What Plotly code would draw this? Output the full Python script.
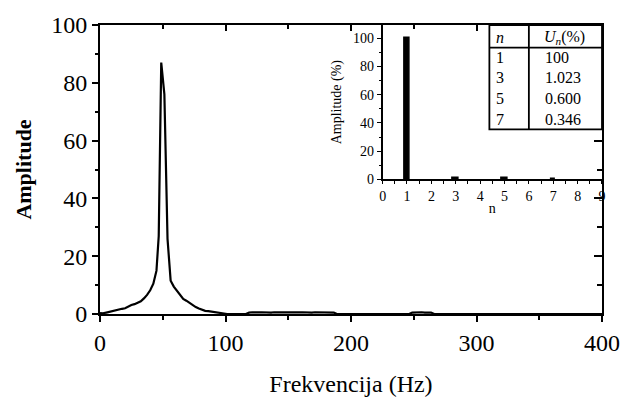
import plotly.graph_objects as go

# ---- main spectrum ----
freq_hz = [0, 2.5, 5, 7.5, 10, 12.5, 15, 17.5, 20, 22.5, 25, 27.5, 30, 32.5, 35, 37.5,
           40, 42.5, 45, 46.8, 48.8, 51.3, 53.8, 56.3, 58.8, 61.3, 63.8, 66.3, 68.8,
           71.3, 73.8, 76.3, 78.8, 81.3, 83.8, 86.3, 88.8, 91.3, 93.8, 96.3, 98.8,
           101.3, 116.3,
           118.8, 121.3, 123.8, 126.3, 128.8, 131.3, 133.8, 136.3, 138.8, 141.3, 143.8,
           146.3, 148.8, 151.3, 153.8, 156.3, 158.8, 161.3, 163.8, 166.3, 168.8, 171.3,
           173.8, 176.3, 178.8, 181.3, 183.8, 186.3,
           188.8, 246.3,
           248.8, 251.3, 253.8, 256.3, 258.8, 261.3, 263.8,
           266.3, 400]
amplitude = [0.3, 0.2, 0.5, 0.8, 0.9, 1.3, 1.5, 1.8, 2.0, 2.6, 3.1, 3.4, 3.9, 4.4, 5.4, 6.6,
             8.2, 10.5, 15.0, 27.0, 87.0, 76.0, 26.0, 11.5, 9.5, 8.0, 6.5, 5.2, 4.6,
             3.8, 3.0, 2.4, 1.9, 1.4, 1.1, 1.0, 0.8, 0.6, 0.5, 0.3, 0.1,
             0.0, 0.0,
             0.5, 0.6, 0.5, 0.55, 0.6, 0.5, 0.55, 0.5, 0.6, 0.55, 0.5,
             0.6, 0.5, 0.55, 0.6, 0.5, 0.55, 0.6, 0.5, 0.55, 0.5, 0.6,
             0.55, 0.5, 0.6, 0.5, 0.55, 0.5,
             0.0, 0.0,
             0.5, 0.6, 0.55, 0.6, 0.5, 0.6, 0.5,
             0.0, 0.0]

# ---- harmonic inset ----
harmonic_n = [1, 3, 5, 7]
harmonic_pct = [100, 1.023, 0.600, 0.346]
harmonic_txt = ["100", "1.023", "0.600", "0.346"]

FONT = "Times New Roman, Liberation Serif, serif"
fig = go.Figure()

fig.add_trace(go.Scatter(x=freq_hz, y=amplitude, mode="lines",
                         line=dict(color="black", width=2.2), xaxis="x", yaxis="y",
                         showlegend=False, hoverinfo="skip"))
# dummy trace for mirrored (inward-tick) top/right axes
fig.add_trace(go.Scatter(x=[0], y=[0], mode="markers", marker=dict(opacity=0),
                         xaxis="x3", yaxis="y3", showlegend=False, hoverinfo="skip"))

fig.add_trace(go.Bar(x=harmonic_n, y=harmonic_pct, width=0.22,
                     marker=dict(color="black", line=dict(color="black", width=1.5)),
                     xaxis="x2", yaxis="y2", showlegend=False))

main_tick = dict(family=FONT, size=24, color="black")
small = dict(family=FONT, size=14, color="black")

fig.update_layout(
    width=632, height=405,
    margin=dict(l=100, r=24, t=16, b=83),
    paper_bgcolor="white", plot_bgcolor="rgba(0,0,0,0)",
    xaxis=dict(domain=[0, 1], range=[0, 400], dtick=100, tick0=0,
               ticks="outside", ticklen=6, tickwidth=1.5, tickcolor="black",
               minor=dict(dtick=50, ticks="outside", ticklen=4, tickwidth=1.5, tickcolor="black"),
               showline=True, linewidth=2, linecolor="black", showgrid=False, zeroline=False,
               tickfont=main_tick,
               title=dict(text="Frekvencija (Hz)", font=main_tick, standoff=20)),
    yaxis=dict(domain=[0, 1], range=[0, 100], dtick=20, tick0=0,
               ticks="outside", ticklen=6, tickwidth=1.5, tickcolor="black",
               minor=dict(dtick=10, ticks="outside", ticklen=3, tickwidth=1.5, tickcolor="black"),
               showline=True, linewidth=2, linecolor="black", showgrid=False, zeroline=False,
               tickfont=main_tick,
               title=dict(text="<b>Amplitude</b>", font=dict(family=FONT, size=22, color="black"),
                          standoff=14)),
    xaxis3=dict(overlaying="x", side="top", anchor="y3", range=[0, 400], dtick=100, tick0=0,
                ticks="inside", ticklen=6, tickwidth=1.5, tickcolor="black",
                minor=dict(dtick=50, ticks="inside", ticklen=4, tickwidth=1.5, tickcolor="black"),
                showticklabels=False, showline=True, linewidth=2, linecolor="black",
                showgrid=False, zeroline=False),
    yaxis3=dict(overlaying="y", side="right", anchor="x3", range=[0, 100], dtick=20, tick0=0,
                ticks="inside", ticklen=8, tickwidth=1.5, tickcolor="black",
                minor=dict(dtick=10, ticks="inside", ticklen=5, tickwidth=1.5, tickcolor="black"),
                showticklabels=False, showline=True, linewidth=2, linecolor="black",
                showgrid=False, zeroline=False),
    xaxis2=dict(domain=[0.563, 1], anchor="y2", range=[0, 9], dtick=1, tick0=0,
                ticks="outside", ticklen=3, tickwidth=1.2, tickcolor="black",
                minor=dict(dtick=0.5, ticks="outside", ticklen=3, tickwidth=1.2, tickcolor="black"),
                showline=True, linewidth=1.5, linecolor="black", showgrid=False, zeroline=False,
                tickfont=small, title=dict(text="n", font=small, standoff=0)),
    yaxis2=dict(domain=[0.466, 1], anchor="x2", range=[0, 109.5], dtick=20, tick0=0,
                ticks="outside", ticklen=4, tickwidth=1.2, tickcolor="black",
                minor=dict(dtick=10, ticks="outside", ticklen=2, tickwidth=1.2, tickcolor="black"),
                showline=True, linewidth=1.5, linecolor="black", showgrid=False, zeroline=False,
                tickfont=small, title=dict(text="Amplitude (%)", font=small, standoff=8)),
    bargap=0,
)

# table inside the inset
tbl_left, tbl_mid, tbl_right = 4.38, 6.0, 9.0
tbl_bottom, tbl_head, tbl_top = 35.5, 93.5, 109.5
line = dict(color="black", width=1.8)
fig.add_shape(type="rect", xref="x2", yref="y2", x0=tbl_left, x1=tbl_right,
              y0=tbl_bottom, y1=tbl_top, line=line, fillcolor="white", layer="below")
fig.add_shape(type="line", xref="x2", yref="y2", x0=tbl_left, x1=tbl_right,
              y0=tbl_head, y1=tbl_head, line=line)
fig.add_shape(type="line", xref="x2", yref="y2", x0=tbl_mid, x1=tbl_mid,
              y0=tbl_bottom, y1=tbl_top, line=line)

tfont = dict(family=FONT, size=16, color="black")
fig.add_annotation(xref="x2", yref="y2", x=4.55, y=100.9, text="<i>n</i>",
                   showarrow=False, xanchor="left", font=tfont)
fig.add_annotation(xref="x2", yref="y2", x=6.55, y=100.9,
                   text="<i>U</i><sub><i>n</i></sub>(%)", showarrow=False,
                   xanchor="left", font=tfont)
for i, (n, t) in enumerate(zip(harmonic_n, harmonic_txt)):
    yy = 86.7 - i * 14.75
    fig.add_annotation(xref="x2", yref="y2", x=4.55, y=yy, text=str(n),
                       showarrow=False, xanchor="left", font=tfont)
    fig.add_annotation(xref="x2", yref="y2", x=6.6, y=yy, text=t,
                       showarrow=False, xanchor="left", font=tfont)

fig.write_html("out.html")
